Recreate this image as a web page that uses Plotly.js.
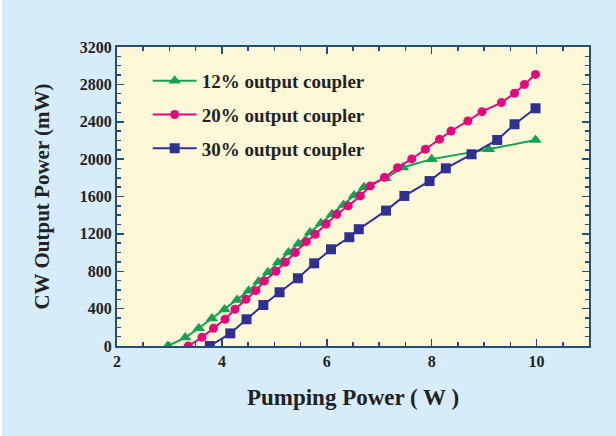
<!DOCTYPE html>
<html>
<head>
<meta charset="utf-8">
<script src="https://cdn.plot.ly/plotly-3.0.1.min.js"></script>
<style>
html,body{margin:0;padding:0;background:#ffffff;}
#chart{width:614px;height:436px;margin-left:2px;}
</style>
</head>
<body>
<div id="chart"></div>
<script>
const x12 = [2.97,3.30,3.56,3.81,4.05,4.29,4.51,4.70,4.88,5.07,5.27,5.46,5.68,5.89,6.10,6.32,6.52,6.71,7.12,7.45,8.00,9.09,9.98];
const y12 = [0,90,190,295,390,493,590,690,790,893,1000,1095,1214,1314,1410,1510,1610,1700,1795,1910,2000,2105,2205];

const x20 = [3.36,3.62,3.84,4.06,4.25,4.46,4.65,4.81,5.03,5.21,5.40,5.61,5.78,5.99,6.19,6.41,6.64,6.83,7.10,7.35,7.62,7.88,8.15,8.37,8.69,8.96,9.33,9.58,9.77,9.98];
const y20 = [0,93,190,286,393,500,592,696,800,896,1000,1117,1196,1306,1410,1499,1606,1713,1804,1909,2002,2106,2212,2301,2408,2508,2605,2705,2800,2907];

const x30 = [3.77,4.16,4.47,4.79,5.10,5.45,5.76,6.08,6.43,6.61,7.13,7.48,7.96,8.27,8.76,9.25,9.58,9.98];
const y30 = [0,135,286,439,575,725,885,1035,1164,1250,1449,1606,1765,1902,2052,2205,2373,2544];

const names = ["12% output coupler","20% output coupler","30% output coupler"];
const xTicks = [2,4,6,8,10];
const yTicks = [0,400,800,1200,1600,2000,2400,2800,3200];

const traces = [
  {x:x12, y:y12, name:names[0], legendgroup:"a", mode:"lines+markers",
   line:{color:"#12a352", width:2}, marker:{symbol:"triangle-up", size:11, color:"#12a352"}},
  {x:x20, y:y20, name:names[1], legendgroup:"b", mode:"lines+markers",
   line:{color:"#e6067f", width:2}, marker:{symbol:"circle", size:9, color:"#e6067f"}},
  {x:x30, y:y30, name:names[2], legendgroup:"c", mode:"lines+markers",
   line:{color:"#2e3192", width:2}, marker:{symbol:"square", size:10, color:"#2e3192"}}
];

const axisCommon = {
  showgrid:false, zeroline:false, showline:true, mirror:"ticks",
  linecolor:"#1f4f7a", linewidth:2, ticks:"inside", ticklen:7, tickwidth:1.5, tickcolor:"#1f4f7a",
  tickfont:{family:"Liberation Serif", size:16, color:"#222", weight:"bold"}
};

const layout = {
  width:614, height:436,
  paper_bgcolor:"#d6ecfa", plot_bgcolor:"#fdf9d8",
  margin:{l:115, r:27, t:47, b:90},
  showlegend:true,
  legend:{x:0.065, y:0.95, xanchor:"left", yanchor:"top", bgcolor:"rgba(0,0,0,0)",
    traceorder:"grouped", tracegroupgap:6, itemwidth:44,
    font:{family:"Liberation Serif", size:19, color:"#222", weight:"bold"}},
  xaxis:Object.assign({}, axisCommon, {
    range:[2,11], tickvals:xTicks, ticktext:xTicks.map(String),
    minor:{dtick:0.5, tick0:0, ticks:"inside", ticklen:4, tickwidth:1.5, tickcolor:"#1f4f7a"},
    title:{text:"Pumping Power ( W )", standoff:20,
      font:{family:"Liberation Serif", size:23, color:"#222", weight:"bold"}}
  }),
  yaxis:Object.assign({}, axisCommon, {
    range:[0,3200], tickvals:yTicks, ticktext:yTicks.map(String),
    minor:{dtick:100, tick0:0, ticks:"inside", ticklen:4, tickwidth:1.5, tickcolor:"#1f4f7a"},
    title:{text:"CW Output Power (mW)\u00a0\u00a0\u00a0\u00a0\u00a0\u00a0", standoff:24,
      font:{family:"Liberation Serif", size:21, color:"#222", weight:"bold"}}
  })
};

Plotly.newPlot("chart", traces, layout, {displayModeBar:false, staticPlot:true});
</script>
</body>
</html>
